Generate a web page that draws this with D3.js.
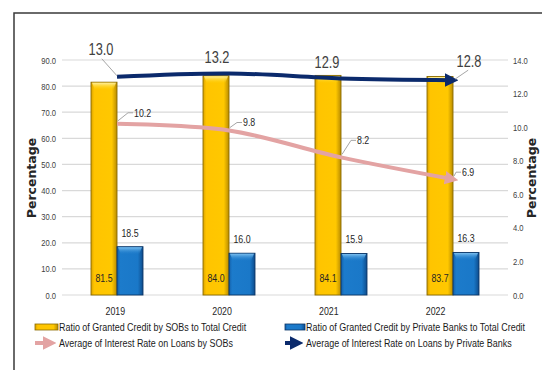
<!DOCTYPE html>
<html>
<head>
<meta charset="utf-8">
<script src="https://cdn.jsdelivr.net/npm/d3@7"></script>
<style>
  html, body { margin: 0; padding: 0; background: #fff; }
  svg { display: block; }
  text { font-family: "Liberation Sans", Arial, sans-serif; }
  text.title { font-family: "DejaVu Sans", Verdana, sans-serif; font-weight: bold; }
</style>
</head>
<body>
<svg id="chart" width="542" height="370"></svg>
<script>
// Credit shares and lending rates, 2019-2022
const years = ["2019", "2020", "2021", "2022"];
const sobShare = [81.5, 84.0, 84.1, 83.7];       // % of total credit granted by SOBs
const privateShare = [18.5, 16.0, 15.9, 16.3];   // % of total credit granted by private banks
const sobRate = [10.2, 9.8, 8.2, 6.9];           // average interest rate on loans by SOBs
const privateRate = [13.0, 13.2, 12.9, 12.8];    // average interest rate on loans by private banks
const leftTicks = [0, 10, 20, 30, 40, 50, 60, 70, 80, 90];
const rightTicks = [0, 2, 4, 6, 8, 10, 12, 14];
const seriesNames = [
  "Ratio of Granted Credit by SOBs to Total Credit",
  "Ratio of Granted Credit by Private Banks to Total Credit",
  "Average of Interest Rate on Loans by SOBs",
  "Average of Interest Rate on Loans by Private Banks"
];

const svg = d3.select("#chart");
const W = 542, H = 370;
const plot = { left: 62, right: 508, top: 60, bottom: 295 };
const NARROW = 0.8; // horizontal squeeze giving a condensed look to the text

const x = d3.scaleBand().domain(years).range([61, 509]).paddingInner(0.536).paddingOuter(0.268);
const xSub = d3.scaleBand().domain(["sob", "private"]).range([0, x.bandwidth()]);
const xLabel = d3.scaleBand().domain(years).range([62, 489]);
const yL = d3.scaleLinear().domain([0, 90]).range([plot.bottom, plot.top]);
const yR = d3.scaleLinear().domain([0, 14]).range([plot.bottom, plot.top]);
const cx = d => x(d) + x.bandwidth() / 2;

// condensed text placed at (tx, ty)
function ctext(parent, tx, ty, str, size, anchor, color) {
  return parent.append("g").attr("transform", `translate(${tx},${ty}) scale(${NARROW},1)`)
    .append("text").attr("dy", "0.35em").attr("text-anchor", anchor)
    .attr("font-size", size).attr("fill", color).text(str);
}

const defs = svg.append("defs");
function hGrad(id, stops) {
  const g = defs.append("linearGradient").attr("id", id).attr("x1", 0).attr("x2", 1).attr("y1", 0).attr("y2", 0);
  stops.forEach(([o, c]) => g.append("stop").attr("offset", o).attr("stop-color", c));
}
function vGrad(id, stops) {
  const g = defs.append("linearGradient").attr("id", id).attr("x1", 0).attr("x2", 0).attr("y1", 0).attr("y2", 1);
  stops.forEach(([o, c, a]) => g.append("stop").attr("offset", o).attr("stop-color", c).attr("stop-opacity", a));
}
hGrad("gold", [[0, "#D9A200"], [0.12, "#FFC400"], [0.8, "#FFC800"], [1, "#B88B00"]]);
hGrad("blue", [[0, "#145FA8"], [0.12, "#1C7BCB"], [0.8, "#1A78C8"], [1, "#0D4C8C"]]);
vGrad("goldTop", [[0, "#FFF0A0", 1], [1, "#FFD000", 0]]);
vGrad("blueTop", [[0, "#7CC0F0", 1], [1, "#1C7BCB", 0]]);

function arrowMarker(id, color) {
  defs.append("marker").attr("id", id).attr("viewBox", "0 0 10 10")
    .attr("refX", 6).attr("refY", 5).attr("markerWidth", 3.4).attr("markerHeight", 3.4)
    .attr("markerUnits", "strokeWidth").attr("orient", "auto")
    .append("path").attr("d", "M0,0 L10,5 L0,10 Z").attr("fill", color);
}
const navy = "#0B2A6C", pink = "#E3A3A3";
arrowMarker("arNavy", navy);
arrowMarker("arPink", pink);

// Frame
svg.append("path").attr("d", `M14,${H} L14,13 L${W},13`).attr("fill", "none")
  .attr("stroke", "#3a3a3a").attr("stroke-width", 1.5);

// Gridlines
svg.append("g").selectAll("line").data(leftTicks).join("line")
  .attr("x1", plot.left).attr("x2", plot.right)
  .attr("y1", d => yL(d)).attr("y2", d => yL(d))
  .attr("stroke", "#D9D9D9").attr("stroke-width", 1.2);

// Axes
const axL = svg.append("g").attr("transform", `translate(${plot.left - 6},0)`)
  .call(d3.axisLeft(yL).tickValues(leftTicks).tickFormat(d3.format(".1f")).tickSize(0).tickPadding(0));
const axR = svg.append("g").attr("transform", `translate(${plot.right + 5},0)`)
  .call(d3.axisRight(yR).tickValues(rightTicks).tickFormat(d3.format(".1f")).tickSize(0).tickPadding(0));
const axX = svg.append("g").attr("transform", `translate(0,${plot.bottom + 12})`)
  .call(d3.axisBottom(xLabel).tickSize(0).tickPadding(0));
[axL, axR, axX].forEach(a => {
  a.select(".domain").remove();
  a.selectAll("text").attr("font-family", "Liberation Sans, Arial, sans-serif")
    .attr("fill", "#404040").attr("font-size", 9.5).attr("transform", `scale(${NARROW},1)`);
});
axX.selectAll("text").attr("font-size", 11).attr("fill", "#262626");

// Axis titles
svg.append("text").attr("class", "title").attr("transform", "translate(36,178) rotate(-90)")
  .attr("text-anchor", "middle").attr("font-size", 12.5).attr("fill", "#262626").text("Percentage");
svg.append("text").attr("class", "title").attr("transform", "translate(536,178) rotate(-90)")
  .attr("text-anchor", "middle").attr("font-size", 12.5).attr("fill", "#262626").text("Percentage");

// Bars
function drawBars(values, key, fill, top, stroke) {
  const g = svg.append("g");
  const bw = xSub.bandwidth();
  values.forEach((v, i) => {
    const bx = x(years[i]) + xSub(key);
    const by = yL(v);
    const bh = yL(0) - by;
    g.append("rect").attr("x", bx).attr("y", by).attr("width", bw).attr("height", bh)
      .attr("fill", `url(#${fill})`).attr("stroke", stroke).attr("stroke-width", 0.9);
    g.append("path")
      .attr("d", `M${bx + 1},${by + 0.5} L${bx + bw - 1},${by + 0.5} L${bx + bw - 4},${by + 8} L${bx + 4},${by + 8} Z`)
      .attr("fill", `url(#${top})`);
  });
}
drawBars(sobShare, "sob", "gold", "goldTop", "#8A6A00");
drawBars(privateShare, "private", "blue", "blueTop", "#0B3566");

// Bar value labels
const barLabels = svg.append("g");
sobShare.forEach((d, i) => {
  ctext(barLabels, x(years[i]) + xSub("sob") + xSub.bandwidth() / 2, yL(0) - 17, d.toFixed(1), 11, "middle", "#262626");
});
privateShare.forEach((d, i) => {
  ctext(barLabels, x(years[i]) + xSub("private") + xSub.bandwidth() / 2, yL(d) - 14, d.toFixed(1), 11, "middle", "#262626");
});

// Rate lines
const line = scaleY => d3.line().x((d, i) => cx(years[i])).y(d => scaleY(d)).curve(d3.curveCatmullRom.alpha(0.5));
svg.append("path").datum(sobRate).attr("d", line(yR)).attr("fill", "none")
  .attr("stroke", pink).attr("stroke-width", 4).attr("marker-end", "url(#arPink)");
svg.append("path").datum(privateRate).attr("d", line(yR)).attr("fill", "none")
  .attr("stroke", navy).attr("stroke-width", 4).attr("marker-end", "url(#arNavy)");

// Rate labels with leader lines
const rateLabels = svg.append("g");
const navyLabelOffset = [[-16, -27], [-12, -16], [-14, -16], [16, -19]];
const navyLeader = [true, false, false, true];
privateRate.forEach((v, i) => {
  const px = cx(years[i]), py = yR(v);
  const [dx, dy] = navyLabelOffset[i];
  if (navyLeader[i]) {
    const ex = px + dx * 0.95, ey = py + dy + 9;
    rateLabels.append("line").attr("x1", px + (dx > 0 ? 2 : 0)).attr("y1", py - 1).attr("x2", ex).attr("y2", ey)
      .attr("stroke", "#A6A6A6").attr("stroke-width", 1);
  }
  ctext(rateLabels, px + dx, py + dy, v.toFixed(1), 16, "middle", "#404040");
});

const pinkLabelOffset = [[23, -11], [20, -8], [22, -17], [15, -7]];
sobRate.forEach((v, i) => {
  const px = cx(years[i]), py = yR(v);
  const [dx, dy] = pinkLabelOffset[i];
  const kx = px + dx - 12, ky = py + dy;
  rateLabels.append("path")
    .attr("d", `M${px + 1},${py - 3} L${kx},${ky} L${kx + 5},${ky}`)
    .attr("fill", "none").attr("stroke", "#A6A6A6").attr("stroke-width", 1);
  ctext(rateLabels, kx + 6, ky, v.toFixed(1), 11, "start", "#262626");
});

// Legend
const legend = svg.append("g");
const legendItems = [
  { name: seriesNames[0], type: "bar", fill: "gold", stroke: "#8A6A00", col: 0, row: 0 },
  { name: seriesNames[1], type: "bar", fill: "blue", stroke: "#0B3566", col: 1, row: 0 },
  { name: seriesNames[2], type: "arrow", color: pink, marker: "arPink", col: 0, row: 1 },
  { name: seriesNames[3], type: "arrow", color: navy, marker: "arNavy", col: 1, row: 1 }
];
const legendX = [35, 285], legendY = [327, 343];
legendItems.forEach(it => {
  const lx = legendX[it.col], ly = legendY[it.row];
  const sw = it.col === 0 ? 23 : 20;
  if (it.type === "bar") {
    legend.append("rect").attr("x", lx).attr("y", ly - 3).attr("width", sw).attr("height", 6)
      .attr("fill", `url(#${it.fill})`).attr("stroke", it.stroke).attr("stroke-width", 0.8);
  } else {
    legend.append("line").attr("x1", lx).attr("x2", lx + sw - 7).attr("y1", ly).attr("y2", ly)
      .attr("stroke", it.color).attr("stroke-width", 4).attr("marker-end", `url(#${it.marker})`);
  }
  ctext(legend, lx + sw + 1, ly, it.name, 11.2, "start", "#1a1a1a");
});
</script>
</body>
</html>
